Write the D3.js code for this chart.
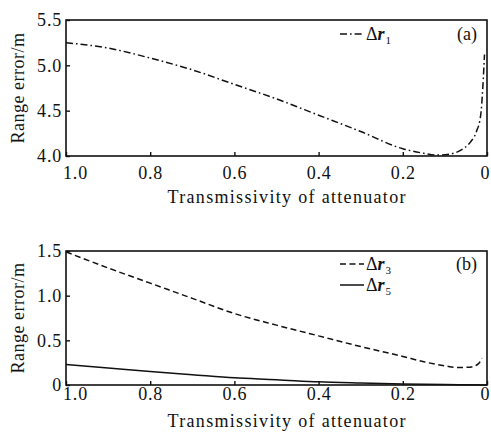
<!DOCTYPE html>
<html>
<head>
<meta charset="utf-8">
<script src="https://cdn.jsdelivr.net/npm/d3@7"></script>
<style>
  html, body { margin: 0; padding: 0; background: #fff; }
  svg { display: block; }
  text { font-family: "Liberation Serif", "DejaVu Serif", serif; fill: #111; }
</style>
</head>
<body>
<div id="chart"></div>
<script>
(function () {
  const WIDTH = 491;
  const HEIGHT = 432;

  // transmissivity values
  const tA = [1.0, 0.9, 0.8, 0.7, 0.6, 0.5, 0.4, 0.3, 0.2, 0.15, 0.12, 0.09, 0.06, 0.04, 0.025, 0.015, 0.01, 0.006];
  const dr1 = [5.25, 5.19, 5.08, 4.95, 4.79, 4.63, 4.45, 4.27, 4.08, 4.03, 4.01, 4.02, 4.07, 4.15, 4.27, 4.45, 4.75, 5.12];

  const tB3 = [1.0, 0.9, 0.8, 0.7, 0.6, 0.5, 0.4, 0.3, 0.2, 0.15, 0.1, 0.07, 0.04, 0.02, 0.012];
  const dr3 = [1.49, 1.31, 1.14, 0.97, 0.80, 0.67, 0.55, 0.43, 0.32, 0.26, 0.215, 0.195, 0.20, 0.24, 0.30];

  const tB5 = [1.0, 0.9, 0.8, 0.7, 0.6, 0.5, 0.4, 0.3, 0.2, 0.1, 0.0];
  const dr5 = [0.23, 0.19, 0.15, 0.115, 0.08, 0.06, 0.035, 0.022, 0.012, 0.005, 0.0];

  const xTicks = [1.0, 0.8, 0.6, 0.4, 0.2, 0];
  const xTickLabels = ["1.0", "0.8", "0.6", "0.4", "0.2", "0"];
  const yTicksA = [4.0, 4.5, 5.0, 5.5];
  const yTickLabelsA = ["4.0", "4.5", "5.0", "5.5"];
  const yTicksB = [0, 0.5, 1.0, 1.5];
  const yTickLabelsB = ["0", "0.5", "1.0", "1.5"];

  const X_TITLE = "Transmissivity of attenuator";
  const Y_TITLE = "Range error/m";

  const LEFT = 66, RIGHT = 487;

  const panels = [
    {
      tag: "(a)", top: 20, bottom: 156, domain: [4.0, 5.5],
      yTicks: yTicksA, yLabels: yTickLabelsA, tickPad: 10, titleY: 203,
      series: [{ t: tA, v: dr1, dash: "7,3,1.6,3", name: "1" }],
      legendY: [34]
    },
    {
      tag: "(b)", top: 251, bottom: 385, domain: [0, 1.5],
      yTicks: yTicksB, yLabels: yTickLabelsB, tickPad: 2, titleY: 427,
      series: [
        { t: tB3, v: dr3, dash: "6,3.5", name: "3" },
        { t: tB5, v: dr5, dash: null, name: "5" }
      ],
      legendY: [264, 285]
    }
  ];

  const svg = d3.select("#chart").append("svg")
    .attr("width", WIDTH)
    .attr("height", HEIGHT);

  svg.append("rect")
    .attr("width", WIDTH)
    .attr("height", HEIGHT)
    .attr("fill", "#fff");

  const x = d3.scaleLinear().domain([1, 0]).range([LEFT, RIGHT]);

  function drawPanel(p) {
    const y = d3.scaleLinear().domain(p.domain).range([p.bottom, p.top]);
    const g = svg.append("g");

    // x axis, ticks pointing inward
    const xAxis = g.append("g")
      .attr("transform", `translate(0,${p.bottom})`)
      .call(d3.axisBottom(x)
        .tickValues(xTicks)
        .tickFormat((d, i) => xTickLabels[i])
        .tickSizeInner(-4)
        .tickSizeOuter(0)
        .tickPadding(p.tickPad));
    xAxis.attr("font-family", null);
    xAxis.select(".domain").remove();
    xAxis.selectAll("line").attr("stroke", "#111").attr("stroke-width", 1.4);
    xAxis.selectAll("text")
      .attr("font-size", 18)
      .style("letter-spacing", "0.8px")
      .attr("dx", (d, i) => i === 0 ? 9 : (i === xTicks.length - 1 ? -2 : 0));

    // y axis
    const yAxis = g.append("g")
      .attr("transform", `translate(${LEFT},0)`)
      .call(d3.axisLeft(y)
        .tickValues(p.yTicks)
        .tickFormat((d, i) => p.yLabels[i])
        .tickSizeInner(-4)
        .tickSizeOuter(0)
        .tickPadding(4));
    yAxis.attr("font-family", null);
    yAxis.select(".domain").remove();
    yAxis.selectAll("line").attr("stroke", "#111").attr("stroke-width", 1.4);
    yAxis.selectAll("text")
      .attr("font-size", 18)
      .style("letter-spacing", "0.8px");

    // curves
    const line = d3.line()
      .x(d => x(d[0]))
      .y(d => y(d[1]))
      .curve(d3.curveMonotoneX);

    p.series.forEach(s => {
      g.append("path")
        .datum(s.t.map((t, i) => [t, s.v[i]]))
        .attr("d", line)
        .attr("fill", "none")
        .attr("stroke", "#111")
        .attr("stroke-width", 1.5)
        .attr("stroke-dasharray", s.dash);
    });

    // frame
    g.append("rect")
      .attr("x", LEFT)
      .attr("y", p.top)
      .attr("width", RIGHT - LEFT)
      .attr("height", p.bottom - p.top)
      .attr("fill", "none")
      .attr("stroke", "#111")
      .attr("stroke-width", 1.6);

    // legend
    p.series.forEach((s, i) => {
      const ly = p.legendY[i];
      g.append("line")
        .attr("x1", 340).attr("x2", 364)
        .attr("y1", ly).attr("y2", ly)
        .attr("stroke", "#111")
        .attr("stroke-width", 1.5)
        .attr("stroke-dasharray", s.dash);
      const t = g.append("text")
        .attr("x", 366)
        .attr("y", ly + 6)
        .attr("font-size", 18);
      t.append("tspan").text("Δ");
      t.append("tspan").attr("font-style", "italic").attr("font-weight", "bold").text("r");
      t.append("tspan").attr("font-size", 11).attr("dy", 4).attr("dx", 1).text(s.name);
    });

    g.append("text")
      .attr("x", 477)
      .attr("y", p.legendY[0] + 6)
      .attr("text-anchor", "end")
      .attr("font-size", 18)
      .text(p.tag);

    // axis titles
    g.append("text")
      .attr("x", (LEFT + RIGHT) / 2 + 10)
      .attr("y", p.titleY)
      .attr("text-anchor", "middle")
      .attr("font-size", 18)
      .attr("textLength", 238)
      .attr("lengthAdjust", "spacing")
      .text(X_TITLE);

    g.append("text")
      .attr("transform", `translate(24,${(p.top + p.bottom) / 2}) rotate(-90)`)
      .attr("text-anchor", "middle")
      .attr("font-size", 18)
      .style("letter-spacing", "0.5px")
      .text(Y_TITLE);
  }

  panels.forEach(drawPanel);
})();
</script>
</body>
</html>
